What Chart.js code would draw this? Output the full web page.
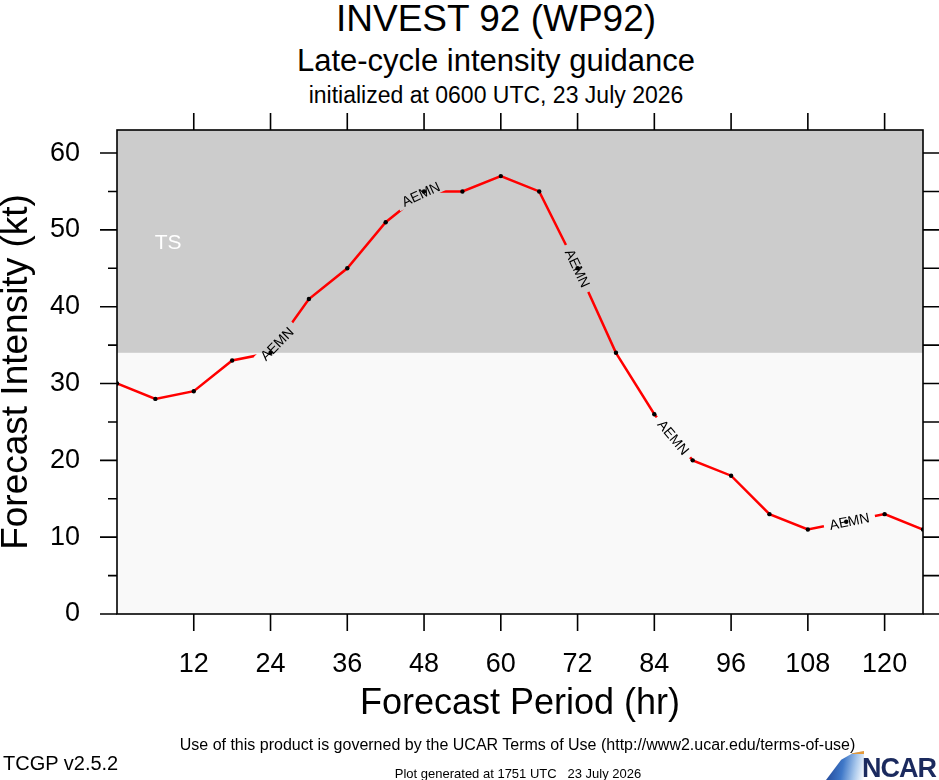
<!DOCTYPE html>
<html>
<head>
<meta charset="utf-8">
<script src="https://cdn.jsdelivr.net/npm/chart.js@4.4.1/dist/chart.umd.min.js"></script>
<style>
  html, body { margin: 0; padding: 0; background: #fff; overflow: hidden; }
  body { width: 939px; height: 780px; position: relative; font-family: "Liberation Sans", Arial, sans-serif; color: #000; }
  #wrap { position: absolute; left: 0; top: 0; width: 939px; height: 780px; }
  .t { position: absolute; white-space: nowrap; line-height: 1; text-align: center; }
  #logo { position: absolute; left: 826px; top: 751px; width: 38px; height: 29px;
          background: linear-gradient(100deg, #1d3f8f 0%, #3f78c8 45%, #a9c8ec 75%, #ffffff 100%);
          clip-path: polygon(0% 100%, 100% 100%, 100% 0%, 70% 8%, 40% 30%); }
  #logo:after { content: ""; position: absolute; right: 0; top: 0; width: 100%; height: 3px; background: #e59a3a; }
</style>
</head>
<body>
<div class="t" style="left:0;width:992px;top:0;font-size:37px;">INVEST 92 (WP92)</div>
<div class="t" style="left:0;width:992px;top:45px;font-size:31px;">Late-cycle intensity guidance</div>
<div class="t" style="left:0;width:992px;top:84px;font-size:23px;">initialized at 0600 UTC, 23 July 2026</div>

<div id="wrap"><canvas id="intensityChart"></canvas></div>

<div class="t" style="left:0;width:1035px;top:737px;font-size:16px;">Use of this product is governed by the UCAR Terms of Use (http://www2.ucar.edu/terms-of-use)</div>
<div class="t" style="left:3px;top:753px;font-size:20px;text-align:left;">TCGP v2.5.2</div>
<div class="t" style="left:0;width:1036px;top:767px;font-size:13px;">Plot generated at 1751 UTC &nbsp; 23 July 2026</div>
<div id="logo"></div>
<div class="t" style="left:862px;top:755px;font-size:27px;font-weight:bold;color:#1b2a5e;letter-spacing:-1px;text-align:left;">NCAR</div>

<script>
  // forecast hours and AEMN intensity (kt)
  const hours = [0, 6, 12, 18, 24, 30, 36, 42, 48, 54, 60, 66, 72, 78, 84, 90, 96, 102, 108, 114, 120, 126];
  const aemn  = [30, 28, 29, 33, 34, 41, 45, 51, 55, 55, 57, 55, 45, 34, 26, 20, 18, 13, 11, 12, 13, 11];

  const xTicks = [12, 24, 36, 48, 60, 72, 84, 96, 108, 120];
  const yTicks = [0, 10, 20, 30, 40, 50, 60];
  const yMinorTicks = [5, 15, 25, 35, 45, 55];

  const tsThreshold = 34;        // kt, tropical storm band
  const modelName = 'AEMN';
  const labelHours = [25, 47.5, 72, 87, 114.5];   // where the model name sits on the line

  const FONT = '"Liberation Sans", Arial, sans-serif';

  // point on the drawn line at hour t (pixels), from the dataset's own elements
  function linePos(chart, t) {
    const pts = chart.getDatasetMeta(0).data;
    let i = 0;
    while (i < hours.length - 2 && hours[i + 1] < t) i++;
    const f = (t - hours[i]) / (hours[i + 1] - hours[i]);
    return { x: pts[i].x + f * (pts[i + 1].x - pts[i].x), y: pts[i].y + f * (pts[i + 1].y - pts[i].y) };
  }

  function labelSpots(chart) {
    return labelHours.map(h => {
      const c = linePos(chart, h), a = linePos(chart, h - 3), b = linePos(chart, h + 3);
      return { x: c.x, y: c.y, ang: Math.atan2(b.y - a.y, b.x - a.x) };
    });
  }

  const backdrop = {
    id: 'backdrop',
    beforeDatasetsDraw(chart) {
      const { ctx, chartArea: { left, right, top, bottom } } = chart;
      ctx.save();
      ctx.fillStyle = '#f9f9f9';
      ctx.fillRect(left, top, right - left, bottom - top);
      const yT = chart.scales.y.getPixelForValue(tsThreshold);
      ctx.fillStyle = '#cccccc';
      ctx.fillRect(left, top, right - left, yT - top);
      ctx.fillStyle = '#ffffff';
      ctx.font = '21px ' + FONT;
      ctx.textAlign = 'center';
      ctx.textBaseline = 'middle';
      ctx.fillText('TS', chart.scales.x.getPixelForValue(8), chart.scales.y.getPixelForValue(48.3));
      ctx.restore();
    },
    beforeDatasetDraw(chart, args) {
      if (args.index !== 0) return;
      const ctx = chart.ctx;
      ctx.save();
      ctx.beginPath();
      ctx.rect(0, 0, chart.width, chart.height);
      labelSpots(chart).forEach(s => {
        const c = Math.cos(s.ang), sn = Math.sin(s.ang), hw = 26, hh = 7;
        [[-hw, -hh], [hw, -hh], [hw, hh], [-hw, hh]].forEach(([u, v], k) => {
          const px = s.x + u * c - v * sn, py = s.y + u * sn + v * c;
          if (k) ctx.lineTo(px, py); else ctx.moveTo(px, py);
        });
        ctx.closePath();
      });
      ctx.clip('evenodd');
    },
    afterDatasetDraw(chart, args) {
      if (args.index === 0) chart.ctx.restore();
    },
    afterDatasetsDraw(chart) {
      const ctx = chart.ctx;
      labelSpots(chart).forEach(s => {
        ctx.save();
        ctx.translate(s.x, s.y);
        ctx.rotate(s.ang);
        ctx.fillStyle = '#000';
        ctx.font = '14px ' + FONT;
        ctx.textAlign = 'center';
        ctx.textBaseline = 'middle';
        ctx.fillText(modelName, 0, 1);
        ctx.restore();
      });
    },
    afterDraw(chart) {
      const { ctx, chartArea: { left, right, top, bottom } } = chart;
      const xs = chart.scales.x, ys = chart.scales.y;
      ctx.save();
      ctx.strokeStyle = '#000';
      ctx.lineWidth = 1.6;
      ctx.strokeRect(left, top, right - left, bottom - top);
      ctx.beginPath();
      yTicks.forEach(v => {
        const y = ys.getPixelForValue(v);
        ctx.moveTo(left - 17, y); ctx.lineTo(left, y);
        ctx.moveTo(right, y); ctx.lineTo(right + 17, y);
      });
      yMinorTicks.forEach(v => {
        const y = ys.getPixelForValue(v);
        ctx.moveTo(left - 9, y); ctx.lineTo(left, y);
        ctx.moveTo(right, y); ctx.lineTo(right + 17, y);
      });
      xTicks.forEach(v => {
        const x = xs.getPixelForValue(v);
        ctx.moveTo(x, top - 17); ctx.lineTo(x, top);
        ctx.moveTo(x, bottom); ctx.lineTo(x, bottom + 17);
      });
      ctx.stroke();
      ctx.restore();
    }
  };

  const ctx = document.getElementById('intensityChart').getContext('2d');
  new Chart(ctx, {
    type: 'line',
    data: {
      datasets: [{
        label: modelName,
        data: hours.map((h, i) => ({ x: h, y: aemn[i] })),
        borderColor: '#ff0000',
        borderWidth: 2.5,
        pointRadius: 0,
        tension: 0,
        order: 1
      }, {
        label: modelName + ' points',
        data: hours.map((h, i) => ({ x: h, y: aemn[i] })),
        showLine: false,
        pointRadius: 2.2,
        pointBackgroundColor: '#000',
        pointBorderWidth: 0,
        order: 0
      }]
    },
    options: {
      responsive: true,
      maintainAspectRatio: false,
      animation: false,
      layout: { padding: { top: 130, right: 16, left: 0, bottom: 0 } },
      plugins: {
        legend: { display: false },
        tooltip: { enabled: false }
      },
      scales: {
        x: {
          type: 'linear',
          min: 0,
          max: 126,
          afterBuildTicks: s => { s.ticks = xTicks.map(v => ({ value: v })); },
          afterFit: s => { s.height = 166; s.paddingRight = 0; },
          grid: { display: false, drawTicks: false },
          border: { display: false },
          ticks: { color: '#000', font: { family: FONT, size: 27 }, padding: 34, maxRotation: 0, autoSkip: false },
          title: { display: true, text: 'Forecast Period (hr)', color: '#000',
                   font: { family: FONT, size: 36, lineHeight: 1.2 }, padding: { top: 0, bottom: 54 } }
        },
        y: {
          min: 0,
          max: 63,
          afterBuildTicks: s => { s.ticks = yTicks.map(v => ({ value: v })); },
          afterFit: s => { s.width = 117; },
          grid: { display: false, drawTicks: false },
          border: { display: false },
          ticks: { color: '#000', font: { family: FONT, size: 27 }, padding: 37 },
          title: { display: true, text: 'Forecast Intensity (kt)', color: '#000',
                   font: { family: FONT, size: 37, lineHeight: 0.92 }, padding: { top: 0, bottom: 0 } }
        }
      }
    },
    plugins: [backdrop]
  });
</script>
</body>
</html>
